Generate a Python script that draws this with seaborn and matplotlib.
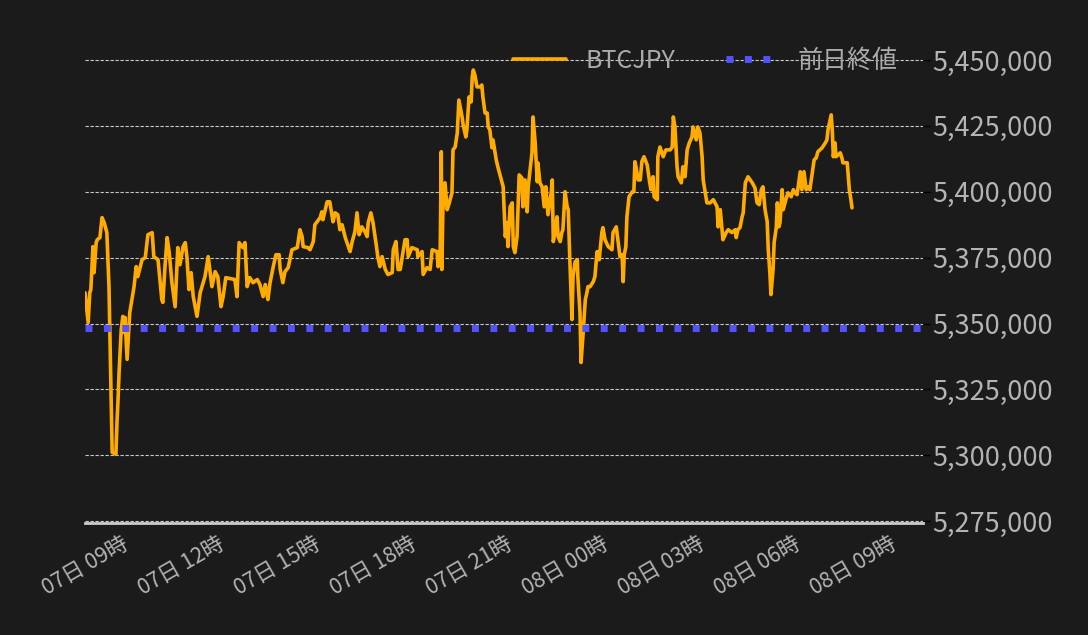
import numpy as np
import pandas as pd
import matplotlib
matplotlib.use("Agg")
import matplotlib.pyplot as plt
import seaborn as sns

# ---------------- data ----------------
start_time = "2023-11-07 09:00"
minutes = [
    0, 6, 9, 11, 15, 17, 21, 23, 28, 32, 36, 41, 45, 51, 58, 60, 62, 64, 68, 71,
    73, 75, 79, 84, 92, 96, 99, 107, 113, 118, 126, 129, 137, 144, 146, 150, 154, 158, 163, 169,
    174, 178, 184, 188, 191, 195, 199, 203, 210, 216, 225, 231, 238, 244, 249, 255, 259, 264, 281, 285,
    287, 289, 296, 300, 304, 309, 315, 323, 328, 334, 338, 343, 347, 353, 358, 364, 366,
    371, 375, 381, 384, 388, 398, 403, 407, 409, 418, 422, 428, 431, 441, 444, 446, 454, 459, 465,
    469, 474, 478, 482, 488, 497, 501, 506, 510, 514, 519, 525, 529, 531, 536, 540, 546, 549, 553, 557,
    563, 568, 576, 578, 583, 587, 591, 596, 600, 604, 606, 613, 623, 624, 632, 634, 641, 647, 651, 660,
    662, 666, 668, 669, 671, 675, 679, 683, 688, 690, 694, 698, 701, 707, 709, 714, 716, 720, 724, 726,
    728, 731, 735, 741, 744, 746, 750, 754, 756, 759, 763, 765, 771, 774, 778, 784, 788, 791, 793, 797,
    801, 803, 806, 810, 814, 819, 821, 825, 829, 831, 838, 840, 844, 848, 849, 853, 857, 861, 864, 868,
    874, 876, 878, 881, 885, 887, 891, 894, 896, 900, 904, 906, 909, 913, 915, 919, 923, 924, 928, 930,
    934, 938, 941, 943, 947, 953, 956, 960, 964, 969, 971, 975, 981, 988, 990, 996, 999, 1003, 1007, 1009,
    1011, 1014, 1016, 1020, 1026, 1029, 1031, 1033, 1037, 1041, 1044, 1048, 1054, 1058, 1061, 1065, 1067, 1073, 1074, 1078,
    1084, 1089, 1097, 1101, 1103, 1106, 1110, 1112, 1118, 1121, 1125, 1129, 1133, 1138, 1140, 1146, 1149, 1153, 1157, 1159,
    1166, 1172, 1178, 1185, 1187, 1191, 1194, 1196, 1202, 1206, 1213, 1219, 1221, 1224, 1228, 1232, 1234, 1238, 1243, 1251,
    1256, 1260, 1264, 1268, 1271, 1275, 1279, 1281, 1284, 1286, 1290, 1292, 1296, 1298, 1301, 1303, 1307, 1309, 1314, 1318,
    1324, 1328, 1331, 1335, 1341, 1344, 1348, 1352, 1356, 1359, 1363, 1367, 1371, 1374, 1382, 1388, 1391, 1393, 1399, 1401,
    1403, 1406, 1408, 1412, 1416, 1419, 1421, 1429, 1433, 1436, 1438,
]
btcjpy = [
    5361700, 5350400, 5361700, 5362900, 5379200, 5369300, 5380700, 5381800, 5382600, 5390200,
    5388300, 5384500, 5364000, 5301100, 5300400, 5312500, 5321200, 5331800, 5347700, 5352700,
    5346600, 5352300, 5336400, 5354200, 5364000, 5371600, 5367800, 5374200, 5375000, 5383700,
    5384500, 5375400, 5374200, 5359100, 5358000, 5371600, 5382600, 5376900, 5365500, 5356400,
    5378800, 5372300, 5379200, 5380700, 5375400, 5362900, 5369300, 5360200, 5352700, 5361700,
    5367800, 5375400, 5364000, 5369700, 5367800, 5356400, 5360200, 5367400, 5366700, 5360200,
    5370500, 5380700, 5378800, 5380700, 5364000, 5367400, 5365500, 5366700, 5364800, 5360200,
    5364800, 5359100, 5365500, 5371600, 5376100, 5376100, 5370500,
    5365500, 5369700, 5371200, 5374200, 5378000, 5378800, 5385600, 5383000, 5379200, 5378800,
    5378000, 5381100, 5387500, 5390200, 5392400, 5389400, 5396200, 5396200, 5388600, 5392000,
    5391300, 5385600, 5387500, 5382600, 5377300, 5381100, 5384800, 5392000, 5383700, 5386700,
    5384800, 5383000, 5388300, 5392000, 5388300, 5379900, 5375400, 5371600, 5375400, 5370500,
    5368600, 5369300, 5378000, 5381100, 5370500, 5370500, 5376900, 5381800, 5381800, 5375400,
    5378800, 5378000, 5375400, 5377300, 5368600, 5371200, 5370500, 5378000, 5377300, 5371600,
    5378000, 5415200, 5370500, 5393200, 5403400, 5393200, 5395800, 5399600, 5415900, 5417000,
    5422300, 5434800, 5428400, 5425400, 5420800, 5423500, 5436000, 5434100, 5443600, 5446200,
    5444300, 5439800, 5439800, 5440500, 5436000, 5429900, 5429900, 5424600, 5423500, 5416700,
    5419700, 5412100, 5409500, 5406400, 5401900, 5383000, 5388300, 5379200, 5394300, 5395800,
    5379200, 5376900, 5383000, 5406400, 5405300, 5394300, 5404500, 5392400, 5401900, 5414800,
    5428400, 5418600, 5403800, 5411000, 5403400, 5401900, 5394300, 5401900, 5391300, 5399600,
    5404500, 5381100, 5384500, 5390500, 5383000, 5381100, 5384500, 5385600, 5400000, 5394300,
    5393200, 5374200, 5351500, 5367800, 5373500, 5374200, 5367800, 5354200, 5335200, 5346600,
    5359100, 5361700, 5364000, 5364000, 5365900, 5367800, 5377300, 5374200, 5384500, 5386400,
    5381800, 5379200, 5378000, 5384500, 5386700, 5381800, 5375400, 5376100, 5365900, 5376100,
    5379200, 5390500, 5398100, 5400000, 5400000, 5411400, 5409500, 5404500, 5404500, 5411400,
    5413300, 5410200, 5404500, 5400800, 5405700, 5398100, 5397000, 5413300, 5417000, 5413300,
    5415900, 5415900, 5417000, 5428400, 5424600, 5409500, 5405700, 5403400, 5409500, 5405700,
    5415900, 5418600, 5420800, 5424600, 5419700, 5424600, 5422300, 5413300, 5404500, 5395800,
    5395800, 5397000, 5394300, 5386700, 5393200, 5386400, 5381800, 5384500, 5385600, 5384500,
    5385600, 5382600, 5385600, 5386400, 5390500, 5392000, 5403400, 5405700, 5403400, 5401500,
    5395800, 5395100, 5400800, 5401900, 5393200, 5388600, 5378000, 5369300, 5361000, 5370500,
    5380700, 5386400, 5395800, 5386700, 5388300, 5400800, 5393200, 5397000, 5399600, 5398100,
    5400800, 5399600, 5398900, 5407600, 5400800, 5407600, 5400800, 5401900, 5400800, 5406400,
    5412100, 5412900, 5415200, 5416700, 5418600, 5419700, 5423500, 5429200, 5423500, 5413300,
    5418600, 5413300, 5414000, 5414800, 5412900, 5411000, 5411000, 5400800, 5397000, 5393900,
]
prev_close = 5348300
series_names = ["BTCJPY", "前日終値"]

x_tick_hours = [0, 3, 6, 9, 12, 15, 18, 21, 24]
x_tick_labels = ["07日 09時", "07日 12時", "07日 15時", "07日 18時", "07日 21時",
                 "08日 00時", "08日 03時", "08日 06時", "08日 09時"]
y_ticks = [5275000, 5300000, 5325000, 5350000, 5375000, 5400000, 5425000, 5450000]
y_tick_labels = ["5,275,000", "5,300,000", "5,325,000", "5,350,000",
                 "5,375,000", "5,400,000", "5,425,000", "5,450,000"]

# ---------------- style ----------------
BG = "#1b1b1b"
sns.set_theme(style="dark")
plt.rcParams["font.family"] = ["Noto Sans CJK JP", "DejaVu Sans"]
plt.rcParams["axes.unicode_minus"] = False

start = pd.Timestamp(start_time)
df = pd.DataFrame({"time": start + pd.to_timedelta(minutes, unit="m"),
                   "price": btcjpy})

fig = plt.figure(figsize=(10.88, 6.35), dpi=100, facecolor=BG)
ax = fig.add_axes([0.0781, 0.1764, 0.7702, 0.7606])
ax.set_facecolor(BG)

sns.lineplot(data=df, x="time", y="price", ax=ax, color="#ffab00",
             linewidth=2.6, label=series_names[0])
ax.axhline(prev_close, color="#5252ff", linewidth=5.0,
           linestyle=(0, (1, 1.65)), dash_capstyle="butt",
           label=series_names[1])

ax.set_xlim(start, start + pd.Timedelta(minutes=1571))
ax.set_ylim(5274300, 5457600)

ax.set_xticks([start + pd.Timedelta(hours=h) for h in x_tick_hours])
ax.set_xticklabels(x_tick_labels, rotation=30, ha="center", fontsize=15.5)
ax.yaxis.tick_right()
ax.set_yticks(y_ticks)
ax.set_yticklabels(y_tick_labels, fontsize=19.5)
ax.set_xlabel("")
ax.set_ylabel("")

ax.tick_params(axis="both", which="both", color="black", labelcolor="#b4b4b4",
               length=5, width=1)
ax.tick_params(axis="y", pad=2)
ax.tick_params(axis="x", pad=2)

ax.grid(True, axis="y", color="#c8c8c8", linewidth=0.8, linestyle=(0, (3, 1.5)))
ax.grid(False, axis="x")

for side in ["top", "right", "left"]:
    ax.spines[side].set_visible(False)
ax.spines["bottom"].set_color("#cccccc")
ax.spines["bottom"].set_linewidth(2)

leg = ax.legend(loc="upper right", bbox_to_anchor=(898 / 1088, 1 - 48 / 635),
                bbox_transform=fig.transFigure, ncol=2, frameon=False,
                fontsize=18, handlelength=2.1, handletextpad=0.8,
                columnspacing=2.0, borderpad=0, borderaxespad=0)
for t in leg.get_texts():
    t.set_color("#aaaaaa")

fig.savefig("out.png", dpi=100, facecolor=BG)
